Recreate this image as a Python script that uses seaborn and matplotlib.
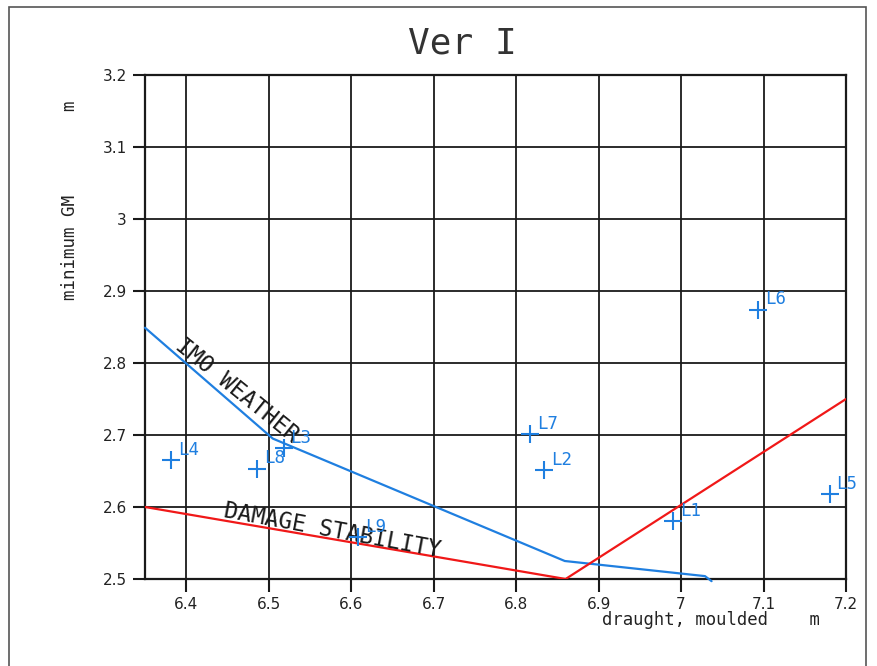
import matplotlib
matplotlib.use("Agg")
import matplotlib.pyplot as plt
import matplotlib.patches as mpatches
import seaborn as sns
import pandas as pd

# Loading conditions: draught (m) and actual GM (m)
cond_labels = ["L1", "L2", "L3", "L4", "L5", "L6", "L7", "L8", "L9"]
cond_draught = [6.990, 6.834, 6.518, 6.382, 7.180, 7.093, 6.817, 6.486, 6.608]
cond_gm = [2.580, 2.651, 2.682, 2.665, 2.618, 2.874, 2.701, 2.653, 2.558]

# IMO weather criterion limit curve
imo_draught = [6.35, 6.505, 6.859, 7.029, 7.037]
imo_gm = [2.849, 2.695, 2.525, 2.504, 2.497]

# Damage stability limit curve
dmg_draught = [6.35, 6.86, 7.2]
dmg_gm = [2.60, 2.50, 2.75]

x_ticks = [6.4, 6.5, 6.6, 6.7, 6.8, 6.9, 7.0, 7.1, 7.2]
x_tick_labels = ["6.4", "6.5", "6.6", "6.7", "6.8", "6.9", "7", "7.1", "7.2"]
y_ticks = [2.5, 2.6, 2.7, 2.8, 2.9, 3.0, 3.1, 3.2]
y_tick_labels = ["2.5", "2.6", "2.7", "2.8", "2.9", "3", "3.1", "3.2"]

BLUE = "#1f7fe0"
RED = "#f01818"
INK = "#1a1a1a"
MONO = ["DejaVu Sans Mono"]

sns.set_theme(style="white")
plt.rcParams["font.family"] = ["DejaVu Sans"]

fig = plt.figure(figsize=(8.77, 6.66), dpi=100)
ax = fig.add_axes([145 / 877, 1 - 579 / 666, (846 - 145) / 877, (579 - 75) / 666])

# sheet frame
fig.patches.append(mpatches.Rectangle((9 / 877, -0.05), (866 - 9) / 877, 1.05 - 7 / 666,
                                      transform=fig.transFigure, fill=False,
                                      edgecolor="#555555", linewidth=1.2))

imo_df = pd.DataFrame({"draught": imo_draught, "gm": imo_gm})
dmg_df = pd.DataFrame({"draught": dmg_draught, "gm": dmg_gm})
cond_df = pd.DataFrame({"draught": cond_draught, "gm": cond_gm, "label": cond_labels})

sns.lineplot(data=imo_df, x="draught", y="gm", sort=False, color=BLUE,
             linewidth=1.6, ax=ax, clip_on=False, zorder=3)
sns.lineplot(data=dmg_df, x="draught", y="gm", sort=False, color=RED,
             linewidth=1.6, ax=ax, zorder=3)
sns.scatterplot(data=cond_df, x="draught", y="gm", marker="+", s=160,
                color=BLUE, linewidth=1.5, ax=ax, zorder=4)

for lab, xv, yv in zip(cond_labels, cond_draught, cond_gm):
    ax.annotate(lab, (xv, yv), xytext=(5, 1), textcoords="offset points",
                ha="left", va="bottom", color=BLUE, fontsize=12.5,
                family=MONO, zorder=5)

ax.text(6.385, 2.821, "IMO WEATHER", rotation=-39, rotation_mode="anchor",
        ha="left", va="baseline", fontsize=16.5, color=INK, family=MONO)
ax.text(6.4445, 2.586, "DAMAGE STABILITY", rotation=-10.5, rotation_mode="anchor",
        ha="left", va="baseline", fontsize=16.5, color=INK, family=MONO)

ax.set_xlim(6.35, 7.2)
ax.set_ylim(2.5, 3.2)
ax.set_xticks(x_ticks)
ax.set_xticklabels(x_tick_labels)
ax.set_yticks(y_ticks)
ax.set_yticklabels(y_tick_labels)
ax.grid(True, color=INK, linewidth=1.3)
ax.set_axisbelow(True)
for sp in ax.spines.values():
    sp.set_visible(True)
    sp.set_color(INK)
    sp.set_linewidth(1.6)
ax.tick_params(axis="both", direction="out", length=9, width=1.5, color=INK,
               labelsize=11, labelcolor="#222222", pad=4, bottom=True, left=True)

ax.set_xlabel("")
ax.set_ylabel("")
fig.text(602 / 877, 1 - 620 / 666, "draught, moulded    m", ha="left", va="center",
         fontsize=12.4, color="#222222", family=MONO)
fig.text(70 / 877, 1 - 200 / 666, "minimum GM        m", rotation=90, ha="center",
         va="center", fontsize=12.6, color="#222222", family=MONO)
fig.text(462 / 877, 1 - 43 / 666, "Ver I", ha="center", va="center", fontsize=26,
         color="#333333", family=MONO)

fig.savefig("out.png", dpi=100)
